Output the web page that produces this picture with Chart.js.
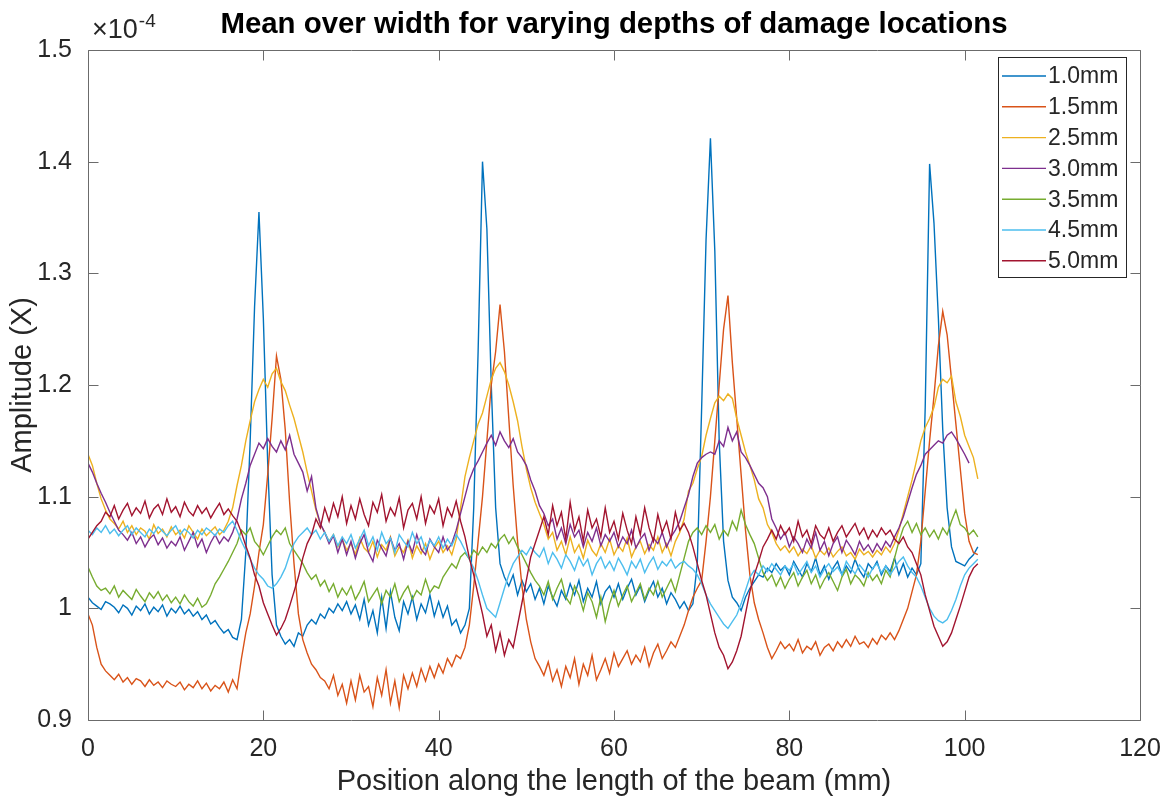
<!DOCTYPE html>
<html>
<head>
<meta charset="utf-8">
<script src="https://cdn.jsdelivr.net/npm/chart.js@4/dist/chart.umd.min.js"></script>
<style>
  html, body { margin: 0; padding: 0; background: #ffffff; }
  #wrap { width: 1167px; height: 804px; position: relative; }
</style>
</head>
<body>
<div id="wrap"><canvas id="c" width="1167" height="804"></canvas></div>
<script>
// ---------- DATA (amplitude values in units of 1e-4) ----------
const chartTitle = 'Mean over width for varying depths of damage locations';
const xAxisTitle = 'Position along the length of the beam (mm)';
const yAxisTitle = 'Amplitude (X)';
const yExponentBase = '\u00D710';
const yExponent = '-4';

const xTickValues = [0, 20, 40, 60, 80, 100, 120];
const yTickValues = [0.9, 1.0, 1.1, 1.2, 1.3, 1.4, 1.5];

const seriesNames = ['1.0mm', '1.5mm', '2.5mm', '3.0mm', '3.5mm', '4.5mm', '5.0mm'];

// sample positions along the beam (mm)
const positions = [
  0,0.5,1,1.5,2,2.5,3,3.5,4,4.5,5,5.5,6,6.5,7,7.5,8,8.5,9,9.5,
  10,10.5,11,11.5,12,12.5,13,13.5,14,14.5,15,15.5,16,16.5,17,17.5,18,18.5,19,19.5,
  20,20.5,21,21.5,22,22.5,23,23.5,24,24.5,25,25.5,26,26.5,27,27.5,28,28.5,29,29.5,
  30,30.5,31,31.5,32,32.5,33,33.5,34,34.5,35,35.5,36,36.5,37,37.5,38,38.5,39,39.5,
  40,40.5,41,41.5,42,42.5,43,43.5,44,44.5,45,45.5,46,46.5,47,47.5,48,48.5,49,49.5,
  50,50.5,51,51.5,52,52.5,53,53.5,54,54.5,55,55.5,56,56.5,57,57.5,58,58.5,59,59.5,
  60,60.5,61,61.5,62,62.5,63,63.5,64,64.5,65,65.5,66,66.5,67,67.5,68,68.5,69,69.5,
  70,70.5,71,71.5,72,72.5,73,73.5,74,74.5,75,75.5,76,76.5,77,77.5,78,78.5,79,79.5,
  80,80.5,81,81.5,82,82.5,83,83.5,84,84.5,85,85.5,86,86.5,87,87.5,88,88.5,89,89.5,
  90,90.5,91,91.5,92,92.5,93,93.5,94,94.5,95,95.5,96,96.5,97,97.5,98,98.5,99,99.5,
  100,100.5,101,101.5
];

const depth1_0 = [
  1.010,1.005,1.002,0.999,1.006,1.004,1.001,0.996,1.003,1.000,0.994,1.002,0.998,1.004,0.995,1.001,0.997,1.003,0.993,1.000,
  0.996,1.002,0.995,0.999,0.993,0.997,0.990,0.994,0.986,0.989,0.983,0.978,0.981,0.974,0.972,0.990,1.050,1.150,1.270,1.355,
  1.260,1.130,1.030,0.985,0.975,0.968,0.972,0.966,0.978,0.975,0.985,0.990,0.986,0.995,0.991,1.000,0.996,1.004,0.998,1.006,
  0.995,1.003,0.990,1.008,0.985,0.998,0.978,1.010,0.982,1.015,0.992,0.980,1.006,0.995,1.010,0.990,1.004,0.996,1.012,0.993,
  1.006,0.992,1.002,0.985,0.990,0.978,0.985,1.000,1.090,1.230,1.400,1.340,1.200,1.090,1.040,1.028,1.020,1.030,1.012,1.025,
  1.015,1.022,1.008,1.018,1.004,1.020,1.010,1.002,1.016,1.008,1.022,1.012,1.025,1.006,1.018,1.010,1.024,1.004,1.015,1.020,
  1.010,1.022,1.008,1.018,1.026,1.012,1.020,1.006,1.016,1.024,1.010,1.018,1.004,1.014,1.008,1.000,1.006,0.998,1.004,1.040,
  1.180,1.330,1.421,1.320,1.150,1.060,1.025,1.010,1.005,0.998,1.010,1.018,1.024,1.030,1.028,1.036,1.032,1.040,1.034,1.038,
  1.030,1.042,1.035,1.028,1.040,1.033,1.045,1.030,1.038,1.026,1.036,1.042,1.030,1.038,1.032,1.044,1.034,1.028,1.040,1.035,
  1.042,1.030,1.038,1.033,1.045,1.030,1.040,1.028,1.036,1.030,1.040,1.180,1.398,1.345,1.260,1.160,1.090,1.055,1.042,1.040,
  1.038,1.044,1.048,1.055
];

const depth1_5 = [
  0.995,0.985,0.965,0.950,0.944,0.940,0.936,0.941,0.934,0.938,0.932,0.937,0.935,0.930,0.936,0.931,0.934,0.929,0.935,0.932,
  0.930,0.934,0.927,0.932,0.929,0.935,0.928,0.933,0.926,0.931,0.928,0.934,0.925,0.936,0.928,0.955,0.978,0.995,1.020,1.050,
  1.075,1.120,1.170,1.226,1.205,1.160,1.095,1.040,0.995,0.972,0.960,0.950,0.945,0.938,0.935,0.928,0.940,0.922,0.932,0.915,
  0.935,0.918,0.940,0.925,0.930,0.912,0.938,0.922,0.945,0.915,0.935,0.911,0.940,0.928,0.942,0.930,0.946,0.935,0.948,0.938,
  0.950,0.942,0.955,0.948,0.958,0.955,0.965,0.985,1.020,1.060,1.100,1.150,1.200,1.230,1.272,1.230,1.170,1.110,1.060,1.020,
  0.990,0.970,0.955,0.948,0.940,0.952,0.935,0.945,0.930,0.948,0.938,0.955,0.932,0.950,0.940,0.958,0.936,0.945,0.955,0.942,
  0.960,0.948,0.955,0.962,0.950,0.958,0.952,0.965,0.948,0.960,0.968,0.955,0.962,0.970,0.965,0.975,0.985,0.998,1.010,1.018,
  1.025,1.060,1.100,1.150,1.200,1.250,1.280,1.220,1.170,1.120,1.070,1.030,1.005,0.990,0.978,0.965,0.955,0.962,0.970,0.964,
  0.968,0.962,0.972,0.960,0.966,0.963,0.970,0.958,0.965,0.968,0.962,0.970,0.965,0.972,0.966,0.975,0.968,0.970,0.965,0.973,
  0.968,0.976,0.972,0.978,0.972,0.980,0.990,1.000,1.015,1.030,1.060,1.105,1.150,1.190,1.235,1.266,1.245,1.205,1.165,1.125,
  1.085,1.060,1.050,1.048
];

const depth2_5 = [
  1.138,1.128,1.112,1.098,1.088,1.080,1.076,1.071,1.078,1.068,1.074,1.066,1.072,1.069,1.062,1.075,1.067,1.071,1.064,1.073,
  1.066,1.070,1.063,1.074,1.068,1.062,1.071,1.065,1.069,1.073,1.066,1.070,1.078,1.090,1.110,1.128,1.150,1.168,1.185,1.196,
  1.205,1.198,1.210,1.215,1.203,1.195,1.182,1.170,1.155,1.140,1.122,1.105,1.088,1.075,1.068,1.060,1.066,1.055,1.062,1.052,
  1.058,1.048,1.063,1.054,1.050,1.060,1.046,1.057,1.052,1.064,1.047,1.055,1.050,1.061,1.045,1.056,1.049,1.058,1.044,1.054,
  1.060,1.050,1.056,1.048,1.062,1.090,1.118,1.135,1.150,1.165,1.175,1.190,1.205,1.215,1.220,1.212,1.200,1.185,1.168,1.145,
  1.125,1.108,1.095,1.085,1.075,1.062,1.068,1.052,1.060,1.048,1.064,1.050,1.057,1.045,1.061,1.052,1.047,1.058,1.050,1.062,
  1.048,1.056,1.051,1.063,1.046,1.055,1.060,1.049,1.057,1.052,1.064,1.050,1.058,1.047,1.060,1.068,1.080,1.105,1.112,1.125,
  1.136,1.155,1.170,1.184,1.190,1.186,1.192,1.188,1.170,1.155,1.140,1.128,1.115,1.098,1.090,1.075,1.068,1.058,1.052,1.056,
  1.050,1.055,1.047,1.053,1.049,1.056,1.045,1.052,1.048,1.054,1.046,1.051,1.055,1.047,1.050,1.044,1.053,1.048,1.051,1.046,
  1.052,1.048,1.055,1.050,1.058,1.070,1.085,1.100,1.115,1.132,1.150,1.162,1.170,1.180,1.198,1.205,1.202,1.208,1.185,1.172,
  1.155,1.145,1.135,1.116
];

const depth3_0 = [
  1.130,1.122,1.112,1.103,1.095,1.086,1.078,1.070,1.066,1.061,1.068,1.058,1.064,1.055,1.062,1.066,1.057,1.063,1.054,1.060,
  1.056,1.064,1.052,1.060,1.068,1.055,1.062,1.050,1.059,1.066,1.058,1.064,1.060,1.068,1.080,1.098,1.112,1.128,1.138,1.148,
  1.143,1.152,1.145,1.140,1.150,1.142,1.155,1.138,1.130,1.122,1.105,1.118,1.090,1.076,1.068,1.058,1.065,1.050,1.062,1.048,
  1.060,1.045,1.058,1.066,1.050,1.042,1.061,1.054,1.047,1.063,1.052,1.058,1.044,1.060,1.050,1.066,1.053,1.048,1.062,1.055,
  1.050,1.064,1.052,1.058,1.070,1.085,1.100,1.115,1.125,1.132,1.140,1.148,1.155,1.146,1.158,1.150,1.144,1.152,1.140,1.135,
  1.128,1.115,1.105,1.092,1.085,1.074,1.080,1.062,1.072,1.058,1.075,1.064,1.070,1.055,1.068,1.060,1.072,1.056,1.066,1.060,
  1.068,1.055,1.064,1.058,1.070,1.054,1.062,1.067,1.052,1.063,1.058,1.068,1.055,1.064,1.070,1.078,1.090,1.102,1.118,1.130,
  1.135,1.138,1.140,1.138,1.150,1.145,1.162,1.150,1.158,1.140,1.135,1.128,1.120,1.112,1.108,1.100,1.080,1.072,1.062,1.068,
  1.055,1.064,1.058,1.050,1.062,1.054,1.068,1.052,1.060,1.047,1.058,1.064,1.050,1.061,1.055,1.048,1.060,1.052,1.057,1.050,
  1.058,1.052,1.060,1.055,1.064,1.072,1.082,1.095,1.108,1.120,1.128,1.138,1.142,1.146,1.150,1.148,1.155,1.158,1.152,1.145,
  1.138,1.130
];

const depth3_5 = [
  1.037,1.028,1.020,1.016,1.018,1.013,1.020,1.010,1.016,1.012,1.008,1.017,1.011,1.006,1.014,1.009,1.015,1.007,1.012,1.005,
  1.010,1.004,1.012,1.006,1.002,1.009,1.001,1.004,1.012,1.022,1.028,1.035,1.042,1.050,1.058,1.070,1.066,1.072,1.060,1.055,
  1.048,1.056,1.064,1.070,1.066,1.072,1.058,1.052,1.046,1.040,1.032,1.026,1.030,1.020,1.025,1.015,1.022,1.010,1.018,1.012,
  1.020,1.008,1.015,1.024,1.006,1.012,1.018,1.004,1.016,1.010,1.022,1.006,1.014,1.020,1.008,1.016,1.012,1.026,1.014,1.020,
  1.018,1.028,1.034,1.040,1.036,1.046,1.050,1.044,1.052,1.048,1.055,1.050,1.058,1.054,1.062,1.066,1.058,1.064,1.055,1.048,
  1.040,1.032,1.025,1.020,1.012,1.024,1.008,1.018,1.026,1.010,1.004,1.020,1.012,0.998,1.014,1.006,0.992,1.010,0.988,1.004,
  1.016,1.002,1.012,1.020,1.006,1.014,1.022,1.008,1.018,1.012,1.024,1.010,1.018,1.026,1.015,1.030,1.045,1.060,1.068,1.072,
  1.066,1.074,1.068,1.075,1.062,1.070,1.065,1.078,1.070,1.088,1.075,1.066,1.058,1.045,1.032,1.025,1.030,1.020,1.028,1.018,
  1.026,1.032,1.020,1.028,1.034,1.022,1.030,1.018,1.026,1.032,1.024,1.016,1.028,1.035,1.022,1.030,1.026,1.020,1.032,1.025,
  1.030,1.022,1.034,1.028,1.045,1.060,1.072,1.078,1.068,1.076,1.066,1.072,1.064,1.070,1.062,1.072,1.066,1.078,1.088,1.075,
  1.072,1.066,1.070,1.064
];

const depth4_5 = [
  1.070,1.066,1.072,1.068,1.074,1.067,1.071,1.065,1.070,1.074,1.066,1.072,1.068,1.064,1.071,1.067,1.073,1.069,1.065,1.070,
  1.074,1.066,1.071,1.068,1.063,1.070,1.066,1.072,1.069,1.065,1.071,1.068,1.074,1.078,1.070,1.060,1.052,1.044,1.036,1.030,
  1.026,1.020,1.018,1.022,1.028,1.036,1.048,1.058,1.064,1.068,1.072,1.066,1.070,1.062,1.068,1.060,1.066,1.056,1.064,1.058,
  1.066,1.054,1.062,1.070,1.056,1.064,1.052,1.068,1.058,1.063,1.050,1.066,1.060,1.055,1.068,1.058,1.064,1.052,1.061,1.056,
  1.064,1.054,1.062,1.056,1.066,1.060,1.052,1.044,1.036,1.025,1.012,1.000,0.996,0.992,1.005,1.018,1.030,1.040,1.046,1.052,
  1.048,1.055,1.050,1.046,1.054,1.040,1.050,1.044,1.036,1.048,1.042,1.034,1.046,1.038,1.044,1.030,1.040,1.046,1.036,1.042,
  1.034,1.045,1.038,1.030,1.042,1.036,1.044,1.032,1.040,1.046,1.035,1.042,1.038,1.044,1.036,1.040,1.042,1.038,1.035,1.030,
  1.022,1.012,1.004,0.998,0.992,0.986,0.982,0.988,0.994,1.004,1.016,1.028,1.034,1.030,1.038,1.033,1.040,1.035,1.030,1.038,
  1.034,1.040,1.030,1.036,1.042,1.032,1.038,1.028,1.035,1.040,1.033,1.037,1.030,1.042,1.036,1.031,1.039,1.034,1.028,1.036,
  1.040,1.032,1.038,1.030,1.036,1.042,1.046,1.038,1.032,1.028,1.020,1.010,1.000,0.993,0.989,0.987,0.990,0.998,1.008,1.020,
  1.030,1.036,1.040,1.044
];

const depth5_0 = [
  1.062,1.068,1.074,1.078,1.086,1.082,1.092,1.080,1.088,1.094,1.083,1.090,1.085,1.096,1.081,1.089,1.093,1.084,1.098,1.086,
  1.091,1.082,1.095,1.087,1.083,1.092,1.085,1.090,1.081,1.088,1.094,1.084,1.089,1.083,1.078,1.068,1.056,1.045,1.030,1.020,
  1.005,0.995,0.985,0.976,0.982,0.990,1.002,1.015,1.028,1.045,1.058,1.066,1.080,1.072,1.090,1.078,1.094,1.082,1.100,1.076,
  1.092,1.080,1.098,1.084,1.074,1.095,1.086,1.102,1.078,1.090,1.083,1.099,1.072,1.088,1.094,1.080,1.100,1.076,1.092,1.085,
  1.098,1.074,1.090,1.082,1.096,1.078,1.064,1.045,1.030,1.012,0.995,0.975,0.985,0.962,0.978,0.958,0.972,0.965,0.985,1.005,
  1.025,1.046,1.058,1.070,1.082,1.066,1.092,1.074,1.086,1.062,1.095,1.070,1.082,1.060,1.088,1.072,1.080,1.064,1.090,1.068,
  1.078,1.062,1.085,1.070,1.058,1.082,1.066,1.090,1.072,1.060,1.084,1.068,1.078,1.062,1.086,1.070,1.076,1.068,1.055,1.040,
  1.025,1.012,0.995,0.978,0.965,0.958,0.946,0.952,0.962,0.975,0.995,1.015,1.030,1.042,1.055,1.062,1.070,1.062,1.074,1.066,
  1.072,1.060,1.078,1.064,1.070,1.058,1.074,1.066,1.062,1.072,1.060,1.068,1.074,1.064,1.070,1.076,1.066,1.072,1.062,1.070,
  1.064,1.072,1.066,1.070,1.062,1.058,1.064,1.055,1.050,1.040,1.030,1.012,0.998,0.984,0.975,0.966,0.970,0.978,0.990,1.002,
  1.015,1.028,1.036,1.040
];

const seriesValues = [depth1_0, depth1_5, depth2_5, depth3_0, depth3_5, depth4_5, depth5_0];
const seriesColors = ['#0072BD', '#D95319', '#EDB120', '#7E2F8E', '#77AC30', '#4DBEEE', '#A2142F'];

// ---------- STYLE ----------
const FONT = "'Liberation Sans', Arial, Helvetica, sans-serif";
const TEXT = '#262626';
const AXIS = '#6b6b6b';
Chart.defaults.font.family = FONT;
Chart.defaults.color = TEXT;

const datasets = seriesNames.map((name, i) => ({
  label: name,
  data: seriesValues[i].map((v, k) => ({ x: positions[k], y: v })),
  borderColor: seriesColors[i],
  backgroundColor: seriesColors[i],
  borderWidth: 1.4,
  pointRadius: 0,
  tension: 0,
  fill: false,
  order: seriesNames.length - i
}));

const matlabFrame = {
  id: 'matlabFrame',
  afterDatasetsDraw(chart) {
    const { ctx, chartArea: a, scales } = chart;
    const xs = scales.x, ys = scales.y;
    ctx.save();
    // axes box with inward ticks on all four sides
    ctx.strokeStyle = AXIS;
    ctx.lineWidth = 1;
    ctx.beginPath();
    const L = Math.round(a.left) + 0.5, R = Math.round(a.right) + 0.5;
    const T = Math.round(a.top) + 0.5, B = Math.round(a.bottom) + 0.5;
    ctx.rect(L, T, R - L, B - T);
    xs.ticks.forEach(t => {
      const px = Math.round(xs.getPixelForValue(t.value)) + 0.5;
      ctx.moveTo(px, B); ctx.lineTo(px, B - 10);
      ctx.moveTo(px, T); ctx.lineTo(px, T + 10);
    });
    ys.ticks.forEach(t => {
      const py = Math.round(ys.getPixelForValue(t.value)) + 0.5;
      ctx.moveTo(L, py); ctx.lineTo(L + 10, py);
      ctx.moveTo(R, py); ctx.lineTo(R - 10, py);
    });
    ctx.stroke();

    // title
    ctx.fillStyle = '#000000';
    ctx.font = 'bold 29.4px ' + FONT;
    ctx.textAlign = 'center';
    ctx.textBaseline = 'alphabetic';
    ctx.fillText(chartTitle, (a.left + a.right) / 2, 33);

    // exponent label
    ctx.fillStyle = TEXT;
    ctx.textAlign = 'left';
    ctx.font = '27px ' + FONT;
    ctx.fillText(yExponentBase, a.left + 4, 38);
    const w = ctx.measureText(yExponentBase).width;
    ctx.font = '19px ' + FONT;
    ctx.fillText(yExponent, a.left + 4 + w + 1, 27);

    // legend
    const lx = 998, ly = 57, lw = 128, lh = 220;
    ctx.fillStyle = '#ffffff';
    ctx.fillRect(lx, ly, lw, lh);
    ctx.strokeStyle = TEXT;
    ctx.lineWidth = 1;
    ctx.strokeRect(lx + 0.5, ly + 0.5, lw, lh);
    ctx.font = '23px ' + FONT;
    ctx.textBaseline = 'middle';
    seriesNames.forEach((name, i) => {
      const yy = 76 + i * 30.8;
      ctx.strokeStyle = seriesColors[i];
      ctx.lineWidth = 1.4;
      ctx.beginPath();
      ctx.moveTo(1002, yy); ctx.lineTo(1046, yy);
      ctx.stroke();
      ctx.fillStyle = TEXT;
      ctx.fillText(name, 1048, yy + 1);
    });
    ctx.restore();
  }
};

function noEdgePadding(s) {
  s.paddingLeft = 0; s.paddingRight = 0; s.paddingTop = 0; s.paddingBottom = 0;
}

new Chart(document.getElementById('c'), {
  type: 'line',
  data: { datasets },
  plugins: [matlabFrame],
  options: {
    responsive: false,
    animation: false,
    events: [],
    layout: { padding: { left: 0, right: 27, top: 50, bottom: 0 } },
    plugins: { legend: { display: false }, tooltip: { enabled: false }, title: { display: false } },
    scales: {
      x: {
        type: 'linear',
        min: xTickValues[0],
        max: xTickValues[xTickValues.length - 1],
        afterBuildTicks: s => { s.ticks = xTickValues.map(v => ({ value: v })); },
        ticks: { font: { size: 25 }, color: TEXT, padding: 14, maxRotation: 0, autoSkip: false,
                 callback: v => String(v) },
        grid: { display: false, drawTicks: false },
        border: { display: false },
        title: { display: true, text: xAxisTitle, font: { size: 29 }, color: TEXT, padding: { top: 0, bottom: 5 } },
        afterFit: s => { s.height = 84; noEdgePadding(s); }
      },
      y: {
        type: 'linear',
        min: yTickValues[0],
        max: yTickValues[yTickValues.length - 1],
        afterBuildTicks: s => { s.ticks = yTickValues.map(v => ({ value: v })); },
        ticks: { font: { size: 25 }, color: TEXT, padding: 16, autoSkip: false,
                 callback: v => String(+(+v).toFixed(1)) },
        grid: { display: false, drawTicks: false },
        border: { display: false },
        title: { display: true, text: yAxisTitle, font: { size: 29 }, color: TEXT, padding: { top: 6, bottom: 0 } },
        afterFit: s => { s.width = 88; noEdgePadding(s); }
      }
    }
  }
});
</script>
</body>
</html>
